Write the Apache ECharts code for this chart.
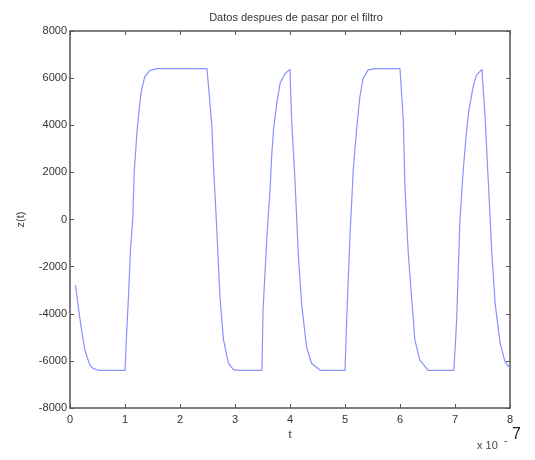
<!DOCTYPE html>
<html><head><meta charset="utf-8">
<script src="https://cdn.jsdelivr.net/npm/echarts@6/dist/echarts.min.js"></script>
<style>html,body{margin:0;padding:0;background:#fff}#c{width:535px;height:460px}</style>
</head><body><div id="c"></div>
<script>
// t in units of 1e-7
const tValues = [0.10,0.15,0.21,0.27,0.36,0.42,0.51,1.00,1.03,1.06,1.10,1.14,1.17,1.22,1.27,1.30,1.36,1.45,1.58,2.49,2.52,2.58,2.61,2.66,2.70,2.73,2.79,2.88,2.97,3.06,3.49,3.51,3.58,3.64,3.67,3.70,3.76,3.82,3.91,4.00,4.03,4.09,4.15,4.21,4.30,4.39,4.55,5.00,5.03,5.09,5.15,5.21,5.27,5.33,5.42,5.55,6.00,6.06,6.09,6.15,6.21,6.27,6.36,6.51,6.98,7.03,7.09,7.15,7.20,7.25,7.33,7.39,7.49,7.55,7.61,7.67,7.73,7.82,7.91,8.00];
const zValues = [-2780,-3700,-4690,-5540,-6180,-6320,-6400,-6400,-4800,-3420,-1290,0,2100,3800,4930,5500,6060,6320,6400,6400,5600,3940,2240,0,-2000,-3400,-5100,-6100,-6370,-6400,-6400,-3840,-730,1390,2810,3800,4930,5780,6200,6370,4220,1680,-1430,-3560,-5400,-6100,-6400,-6400,-4270,-730,2100,3800,5210,5990,6350,6400,6400,4220,1390,-1430,-3280,-5110,-5960,-6400,-6400,-4270,0,2100,3500,4600,5640,6130,6370,4220,1390,-1430,-3560,-5250,-6040,-6320];
const xTicks = [0,1,2,3,4,5,6,7,8];
const yTicks = [-8000,-6000,-4000,-2000,0,2000,4000,6000,8000];

const data = tValues.map((t,i)=>[t,zValues[i]]);
const axColor = '#555';
const font = 'Liberation Sans, Arial, sans-serif';
const lineSt = {show:true,onZero:false,lineStyle:{color:axColor,width:1.5}};
const tickSt = {show:true,inside:true,length:4,lineStyle:{color:axColor}};
const chart = echarts.init(document.getElementById('c'));
chart.setOption({
  animation:false,
  backgroundColor:'#fff',
  title:{text:'Datos despues de pasar por el filtro',left:291,top:7,textAlign:'center',
    textStyle:{fontFamily:font,fontSize:11,fontWeight:'normal',color:'#333'}},
  grid:{left:70,right:25,top:31,bottom:52},
  xAxis:[{type:'value',min:xTicks[0],max:xTicks[xTicks.length-1],interval:1,
    axisLine:lineSt,axisTick:tickSt,
    axisLabel:{fontFamily:font,fontSize:11,color:'#333',margin:6,formatter:v=>String(v)},
    splitLine:{show:false},
    name:'t',nameLocation:'middle',nameGap:21,nameTextStyle:{fontFamily:font,fontSize:11,color:'#333'}},
   {type:'value',position:'top',min:xTicks[0],max:xTicks[xTicks.length-1],interval:1,
    axisLine:lineSt,axisTick:tickSt,axisLabel:{show:false},splitLine:{show:false}}],
  yAxis:[{type:'value',min:yTicks[0],max:yTicks[yTicks.length-1],interval:2000,
    axisLine:lineSt,axisTick:tickSt,
    axisLabel:{fontFamily:font,fontSize:11,color:'#333',margin:3,formatter:v=>String(v)},
    splitLine:{show:false},
    name:'z(t)',nameLocation:'middle',nameGap:44,nameRotate:90,nameTextStyle:{fontFamily:font,fontSize:11,color:'#333'}},
   {type:'value',position:'right',min:yTicks[0],max:yTicks[yTicks.length-1],interval:2000,
    axisLine:lineSt,axisTick:tickSt,axisLabel:{show:false},splitLine:{show:false}}],
  graphic:[
    {type:'text',left:477,top:440,style:{text:'x 10',font:'11px '+font,fill:'#444'}},
    {type:'text',left:504,top:435,style:{text:'-',font:'11px '+font,fill:'#444'}},
    {type:'text',left:512,top:427,style:{text:'7',font:'16px '+font,fill:'#222'}}
  ],
  series:[{type:'line',data:data,showSymbol:false,symbol:'none',
    lineStyle:{color:'#8592ff',width:1.2},xAxisIndex:0,yAxisIndex:0}]
});
</script></body></html>
